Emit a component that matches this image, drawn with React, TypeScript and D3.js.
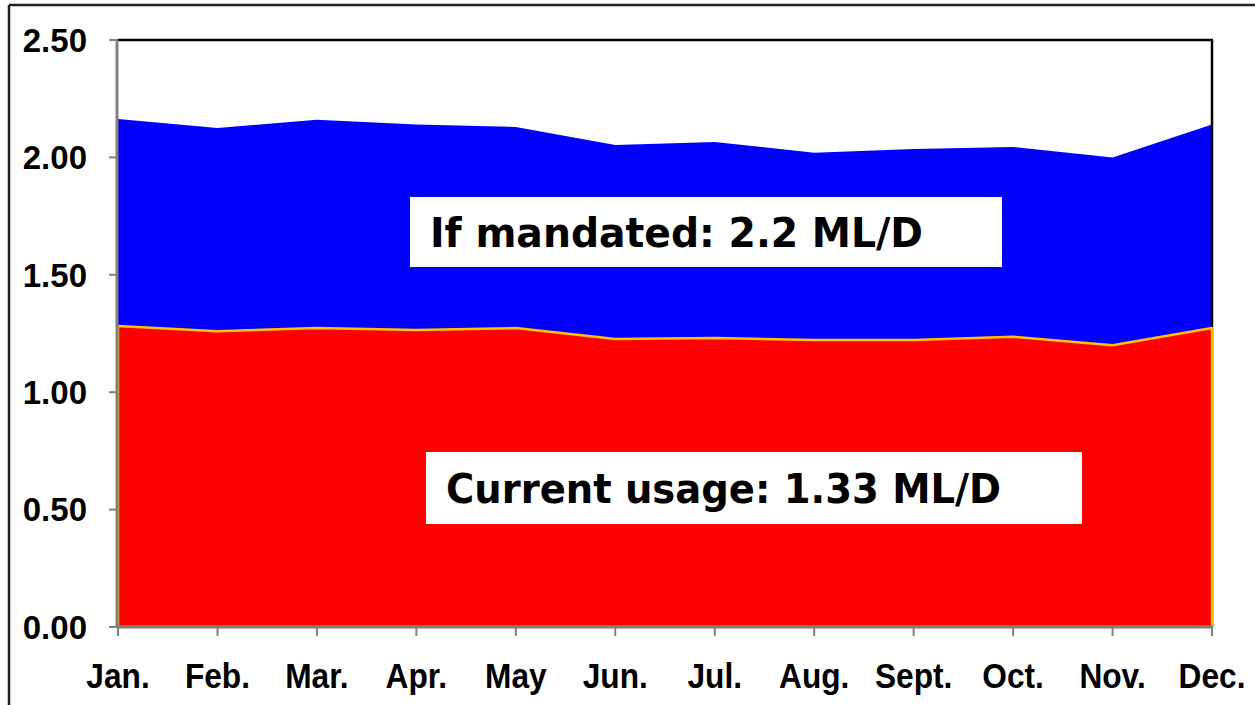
import * as d3 from "d3";

const months = ["Jan.", "Feb.", "Mar.", "Apr.", "May", "Jun.", "Jul.", "Aug.", "Sept.", "Oct.", "Nov.", "Dec."];
const mandated = [2.164, 2.125, 2.16, 2.14, 2.13, 2.053, 2.066, 2.02, 2.036, 2.044, 2.0, 2.14];
const current = [1.282, 1.26, 1.273, 1.265, 1.273, 1.227, 1.231, 1.222, 1.222, 1.236, 1.2, 1.273];
const yTicks = [0, 0.5, 1.0, 1.5, 2.0, 2.5];
const mandatedLabel = "If mandated: 2.2 ML/D";
const currentLabel = "Current usage: 1.33 ML/D";

export default function App() {
  const width = 1255;
  const height = 705;
  const margin = { top: 40, right: 43, bottom: 78, left: 118 };

  const x = d3.scalePoint<string>()
    .domain(months)
    .range([margin.left, width - margin.right]);

  const y = d3.scaleLinear()
    .domain([0, 2.5])
    .range([height - margin.bottom, margin.top]);

  const x0 = margin.left;
  const x1 = width - margin.right;
  const y0 = y(0);
  const yTop = y(2.5);

  const area = (vals: number[]) =>
    d3.area<number>()
      .x((_, i) => x(months[i]) as number)
      .y0(y(0))
      .y1(d => y(d))(vals) as string;

  const fmt = d3.format(".2f");
  const labelFont = "'Liberation Sans', Arial, sans-serif";
  const boxFont = "'DejaVu Sans', Verdana, sans-serif";

  return (
    <svg width={width} height={height} style={{ position: "absolute", left: 0, top: 0 }}>
      <rect width={width} height={height} fill="#fff" />
      {/* outer frame */}
      <line x1={9} y1={5} x2={width} y2={5} stroke="#222" strokeWidth={2.5} />
      <line x1={9} y1={5} x2={9} y2={height} stroke="#222" strokeWidth={2.5} />

      {/* mandated area */}
      <path d={area(mandated)} fill="#0000FF" />

      {/* plot frame top / right */}
      <line x1={x0} y1={yTop} x2={x1 + 1} y2={yTop} stroke="#000" strokeWidth={2.5} />
      <line x1={x1} y1={yTop} x2={x1} y2={y0} stroke="#000" strokeWidth={2.5} />

      {/* current area */}
      <path d={area(current)} fill="#FF0000" stroke="#FFC000" strokeWidth={2.5} strokeLinejoin="round" />

      {/* y axis */}
      <line x1={x0 - 1} y1={yTop} x2={x0 - 1} y2={y0} stroke="#808080" strokeWidth={3} />
      {yTicks.map(t => (
        <g key={t}>
          <line x1={x0 - 9} x2={x0} y1={y(t)} y2={y(t)} stroke="#808080" strokeWidth={2} />
          <text
            x={87}
            y={y(t)}
            dy="0.36em"
            textAnchor="end"
            fontFamily={labelFont}
            fontWeight="bold"
            fontSize={33}
            fill="#000"
          >
            {fmt(t)}
          </text>
        </g>
      ))}

      {/* x axis */}
      <line x1={x0 - 1} x2={x1 + 1} y1={y0} y2={y0} stroke="#808080" strokeWidth={3} />
      {months.map(m => (
        <g key={m}>
          <line x1={x(m)} x2={x(m)} y1={y0} y2={y0 + 9} stroke="#808080" strokeWidth={2} />
          <text
            transform={`translate(${x(m)},688) scale(0.96,1.08)`}
            textAnchor="middle"
            fontFamily={labelFont}
            fontWeight="bold"
            fontSize={33}
            fill="#000"
          >
            {m}
          </text>
        </g>
      ))}

      {/* annotation boxes */}
      <rect x={410} y={197} width={592} height={70} fill="#fff" />
      <text
        x={430}
        y={247}
        fontFamily={boxFont}
        fontWeight="bold"
        fontSize={41}
        textLength={493}
        lengthAdjust="spacingAndGlyphs"
        fill="#000"
      >
        {mandatedLabel}
      </text>

      <rect x={426} y={452} width={656} height={72} fill="#fff" />
      <text
        x={446}
        y={503}
        fontFamily={boxFont}
        fontWeight="bold"
        fontSize={41}
        textLength={555}
        lengthAdjust="spacingAndGlyphs"
        fill="#000"
      >
        {currentLabel}
      </text>
    </svg>
  );
}
